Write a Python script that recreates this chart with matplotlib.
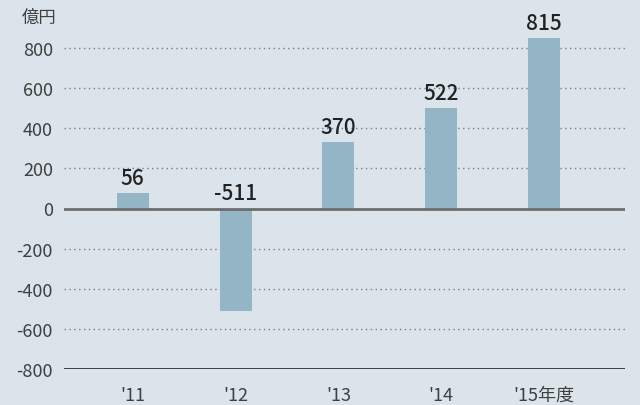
import matplotlib.pyplot as plt
import numpy as np

plt.rcParams['font.family'] = ['Noto Sans CJK JP', 'DejaVu Sans']

years = ["'11", "'12", "'13", "'14", "'15年度"]
bar_heights = [75, -510, 330, 500, 850]   # heights as drawn in the picture
labels = ['56', '-511', '370', '522', '815']
yticks = [-800, -600, -400, -200, 0, 200, 400, 600, 800]

bg = '#dae4ea'
fig = plt.figure(figsize=(6.4, 4.06), dpi=100, facecolor=bg)
# axes runs from the -800 line (y=370px) to the top of the figure
ax = fig.add_axes([64/640, 36/406, 561/640, 370/406], facecolor=bg)

x = np.arange(len(years))
ax.bar(x, bar_heights, width=0.31, color='#93b5c5', zorder=2)

# dotted grid lines
for v in yticks:
    if v in (0, -800):
        continue
    ax.axhline(v, color='#7d7d7d', lw=1, ls=(0, (1, 2.5)), zorder=1)
ax.axhline(0, color='#6e6e6e', lw=2, zorder=3)
ax.axhline(-800, color='#333333', lw=1.3, zorder=3)

for xi, h, lab in zip(x, bar_heights, labels):
    ypos = max(h, 0) + 22
    ax.text(xi, ypos, lab, ha='center', va='bottom', fontsize=15,
            color='#222222', fontweight='medium')

ax.set_xlim(-0.669, 4.788)
ax.set_ylim(-800, -800 + 1600 * 370 / 321)
ax.set_yticks(yticks)
ax.set_yticklabels([str(v) for v in yticks], fontsize=13, color='#404040')
ax.set_xticks(x)
ax.set_xticklabels(years, fontsize=13, color='#404040')
ax.tick_params(axis='y', length=0, pad=8)
ax.tick_params(axis='x', length=0, pad=12)
for s in ax.spines.values():
    s.set_visible(False)

fig.text(22/640, 1 - 18/406, '億円', fontsize=12.5, color='#404040', va='center', ha='left')

fig.savefig('out.png', dpi=100, facecolor=bg)
